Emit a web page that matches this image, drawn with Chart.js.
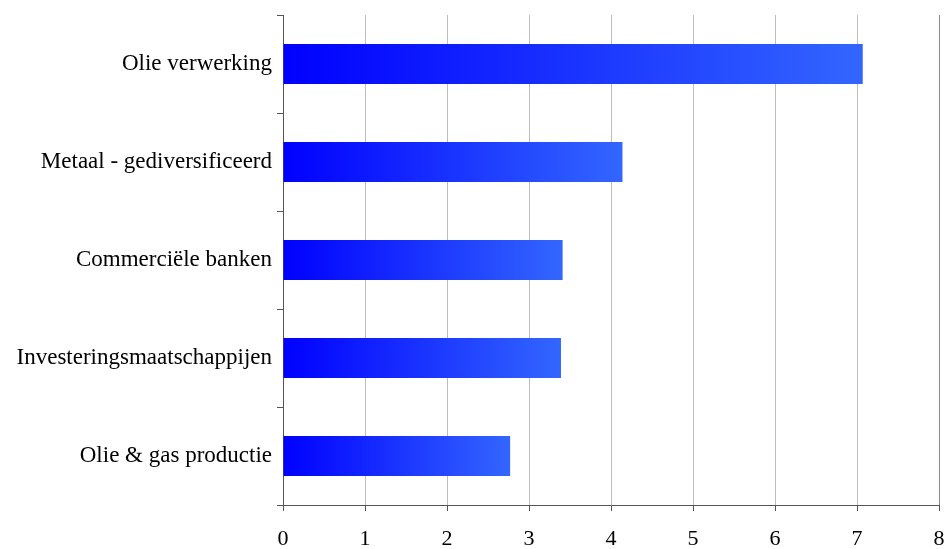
<!DOCTYPE html>
<html lang="nl">
<head>
<meta charset="UTF-8">
<title>Sectoren</title>
<style>
  html, body { margin: 0; padding: 0; background: #fff; }
</style>
</head>
<body>
<canvas id="myChart" width="945" height="549"></canvas>
<script src="https://cdn.jsdelivr.net/npm/chart.js"></script>
<script>
const categories = ['Olie verwerking', 'Metaal - gediversificeerd', 'Commerciële banken', 'Investeringsmaatschappijen', 'Olie & gas productie'];
const values = [7.07, 4.14, 3.41, 3.39, 2.77];
const xTicks = [0, 1, 2, 3, 4, 5, 6, 7, 8];

const serif = '"Liberation Serif", "Times New Roman", serif';

function barGradient(context) {
    const chart = context.chart;
    if (!chart.chartArea) return '#0000ff';
    const x = chart.scales.x;
    const x0 = x.getPixelForValue(0);
    const x1 = x.getPixelForValue(context.raw);
    const g = chart.ctx.createLinearGradient(x0, 0, x1, 0);
    g.addColorStop(0, '#0000ff');
    g.addColorStop(1, '#3366ff');
    return g;
}

new Chart(document.getElementById('myChart'), {
    type: 'bar',
    data: {
        labels: categories,
        datasets: [{
            data: values,
            backgroundColor: barGradient,
            borderWidth: 0,
            barPercentage: 0.41,
            categoryPercentage: 1
        }]
    },
    options: {
        indexAxis: 'y',
        responsive: false,
        animation: false,
        layout: { padding: { top: 15, right: 6, left: 0, bottom: 0 } },
        plugins: { legend: { display: false }, tooltip: { enabled: false } },
        scales: {
            x: {
                min: 0,
                max: 8,
                afterBuildTicks: (axis) => { axis.ticks = xTicks.map(v => ({ value: v })); },
                afterFit: (axis) => {
                    axis.height = 44;
                    axis.paddingLeft = 0;
                    axis.paddingRight = 0;
                },
                grid: {
                    // last line (right edge) is darker in the original
                    color: (c) => (c.tick && c.tick.value === 8 ? '#8c8c8c' : '#bdbdbd'),
                    tickColor: '#555',
                    tickLength: 6,
                    lineWidth: 1
                },
                border: { color: '#555', width: 1 },
                ticks: {
                    color: '#000',
                    padding: 15,
                    maxRotation: 0,
                    font: { family: serif, size: 22 }
                }
            },
            y: {
                afterFit: (axis) => {
                    axis.width = 283;
                    axis.paddingTop = 0;
                    axis.paddingBottom = 0;
                },
                grid: {
                    drawOnChartArea: false,
                    drawTicks: true,
                    tickColor: '#555',
                    tickLength: 6
                },
                border: { color: '#555', width: 1 },
                ticks: {
                    color: '#000',
                    padding: 5,
                    font: { family: serif, size: 23 }
                }
            }
        }
    }
});
</script>
</body>
</html>
